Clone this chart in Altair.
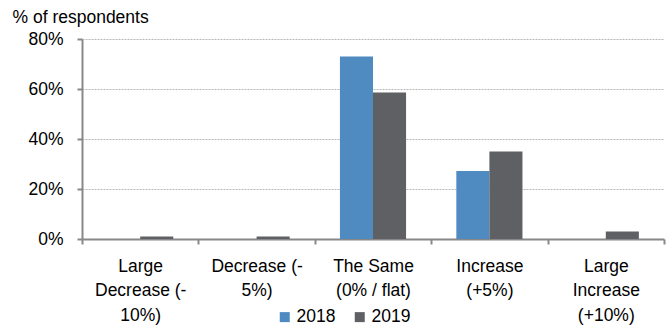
import altair as alt
import pandas as pd

categories = ["Large Decrease (-10%)", "Decrease (-5%)", "The Same (0% / flat)",
              "Increase (+5%)", "Large Increase (+10%)"]
label_lines = {
    "Large Decrease (-10%)": ["Large", "Decrease (-", "10%)"],
    "Decrease (-5%)": ["Decrease (-", "5%)"],
    "The Same (0% / flat)": ["The Same", "(0% / flat)"],
    "Increase (+5%)": ["Increase", "(+5%)"],
    "Large Increase (+10%)": ["Large", "Increase", "(+10%)"],
}
years = ["2018", "2019"]
values_2018 = [0.0, 0.0, 73.0, 27.2, 0.0]
values_2019 = [1.0, 1.0, 58.6, 35.0, 3.0]

rows = []
for c, v in zip(categories, values_2018):
    rows.append({"category": c, "year": "2018", "value": v})
for c, v in zip(categories, values_2019):
    rows.append({"category": c, "year": "2019", "value": v})
df = pd.DataFrame(rows)

label_expr = "{" + ", ".join(
    f"'{k}': {v!r}" for k, v in label_lines.items()
) + "}[datum.value]"

font = "Liberation Sans"
fs = 17.5

chart = alt.Chart(df).mark_bar().encode(
    x=alt.X("category:N", sort=categories,
            scale=alt.Scale(paddingInner=0, paddingOuter=0),
            axis=alt.Axis(title=None, labelAngle=0, labelExpr=label_expr,
                          labelFont=font, labelFontSize=fs, labelColor="#000",
                          labelLineHeight=24.5, labelPadding=13,
                          labelBaseline="top",
                          tickBand="extent", tickSize=5, tickColor="#888",
                          tickWidth=2, domainColor="#888", domainWidth=2,
                          grid=False)),
    xOffset=alt.XOffset("year:N", sort=years,
                        scale=alt.Scale(paddingInner=0, paddingOuter=0.76)),
    y=alt.Y("value:Q", scale=alt.Scale(domain=[0, 80]),
            axis=alt.Axis(values=[0, 20, 40, 60, 80],
                          labelExpr="datum.value + '%'",
                          labelFont=font, labelFontSize=fs, labelColor="#000",
                          labelPadding=14, tickSize=5, tickColor="#888",
                          tickWidth=2, domainColor="#888", domainWidth=2,
                          grid=True, gridColor="#b8b8b8", gridDash=[2, 1],
                          gridWidth=1.2,
                          title="% of respondents", titleAngle=0,
                          titleAlign="left", titleBaseline="alphabetic",
                          titleX=-70, titleY=-17, titleFont=font,
                          titleFontSize=fs, titleFontWeight="normal",
                          titleColor="#000")),
    color=alt.Color("year:N", sort=years,
                    scale=alt.Scale(domain=years, range=["#4F8AC0", "#5F6064"]),
                    legend=alt.Legend(title=None, orient="none",
                                      direction="horizontal",
                                      legendX=194, legendY=269,
                                      symbolType="square", symbolSize=100,
                                      symbolStrokeWidth=0,
                                      labelFont=font, labelFontSize=fs,
                                      labelColor="#000", labelOffset=3,
                                      columnPadding=15)),
).properties(
    width=582, height=200,
    autosize=alt.AutoSizeParams(type="none"),
    padding={"left": 82, "top": 39, "right": 2, "bottom": 89},
).configure_view(stroke=None)

chart.save("out.html", embed_options={"renderer": "svg", "actions": False})
